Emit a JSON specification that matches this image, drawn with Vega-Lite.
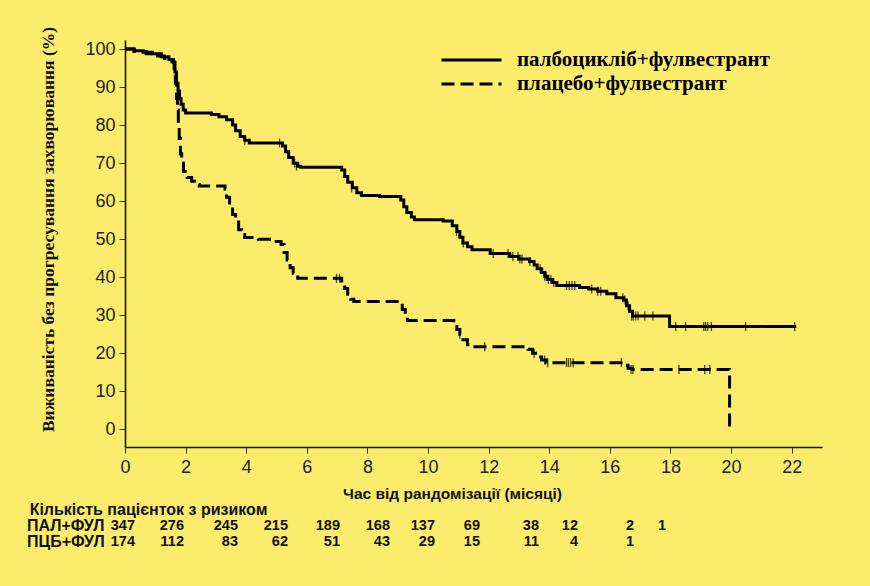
{
  "$schema": "https://vega.github.io/schema/vega-lite/v6.json",
  "width": 697,
  "height": 407,
  "autosize": {"type": "none"},
  "padding": {"left": 125, "top": 40, "right": 48, "bottom": 139},
  "background": "#FBEC6C",
  "config": {"view": {"stroke": null}, "font": "Liberation Sans"},
  "datasets": {
    "km": [
      {"g": "палбоцикліб+фулвестрант", "t": 0, "s": 100},
      {"g": "палбоцикліб+фулвестрант", "t": 0.3, "s": 99.6},
      {"g": "палбоцикліб+фулвестрант", "t": 0.6, "s": 99.2},
      {"g": "палбоцикліб+фулвестрант", "t": 0.9, "s": 98.8},
      {"g": "палбоцикліб+фулвестрант", "t": 1.2, "s": 98.0},
      {"g": "палбоцикліб+фулвестрант", "t": 1.45, "s": 97.3},
      {"g": "палбоцикліб+фулвестрант", "t": 1.6, "s": 96.5},
      {"g": "палбоцикліб+фулвестрант", "t": 1.65, "s": 94},
      {"g": "палбоцикліб+фулвестрант", "t": 1.7, "s": 91},
      {"g": "палбоцикліб+фулвестрант", "t": 1.75, "s": 89},
      {"g": "палбоцикліб+фулвестрант", "t": 1.8, "s": 87},
      {"g": "палбоцикліб+фулвестрант", "t": 1.85, "s": 85.5},
      {"g": "палбоцикліб+фулвестрант", "t": 1.92, "s": 84},
      {"g": "палбоцикліб+фулвестрант", "t": 2.0, "s": 83.2},
      {"g": "палбоцикліб+фулвестрант", "t": 2.85, "s": 82.8},
      {"g": "палбоцикліб+фулвестрант", "t": 3.1, "s": 82.2},
      {"g": "палбоцикліб+фулвестрант", "t": 3.35, "s": 81.4},
      {"g": "палбоцикліб+фулвестрант", "t": 3.55, "s": 80},
      {"g": "палбоцикліб+фулвестрант", "t": 3.65, "s": 78.5},
      {"g": "палбоцикліб+фулвестрант", "t": 3.8, "s": 77},
      {"g": "палбоцикліб+фулвестрант", "t": 3.95, "s": 76},
      {"g": "палбоцикліб+фулвестрант", "t": 4.1, "s": 75.3},
      {"g": "палбоцикліб+фулвестрант", "t": 5.2, "s": 74.5},
      {"g": "палбоцикліб+фулвестрант", "t": 5.3, "s": 73},
      {"g": "палбоцикліб+фулвестрант", "t": 5.4, "s": 71.5},
      {"g": "палбоцикліб+фулвестрант", "t": 5.55, "s": 70},
      {"g": "палбоцикліб+фулвестрант", "t": 5.7, "s": 69.2},
      {"g": "палбоцикліб+фулвестрант", "t": 5.8, "s": 68.9},
      {"g": "палбоцикліб+фулвестрант", "t": 7.15, "s": 68.2},
      {"g": "палбоцикліб+фулвестрант", "t": 7.25, "s": 66.5},
      {"g": "палбоцикліб+фулвестрант", "t": 7.35, "s": 65},
      {"g": "палбоцикліб+фулвестрант", "t": 7.5, "s": 63.5},
      {"g": "палбоцикліб+фулвестрант", "t": 7.65, "s": 62.2},
      {"g": "палбоцикліб+фулвестрант", "t": 7.8, "s": 61.5},
      {"g": "палбоцикліб+фулвестрант", "t": 8.4, "s": 61.2},
      {"g": "палбоцикліб+фулвестрант", "t": 9.1, "s": 60.3},
      {"g": "палбоцикліб+фулвестрант", "t": 9.2, "s": 58.5},
      {"g": "палбоцикліб+фулвестрант", "t": 9.3, "s": 57},
      {"g": "палбоцикліб+фулвестрант", "t": 9.45, "s": 55.8},
      {"g": "палбоцикліб+фулвестрант", "t": 9.55, "s": 55.1},
      {"g": "палбоцикліб+фулвестрант", "t": 10.5, "s": 54.8},
      {"g": "палбоцикліб+фулвестрант", "t": 10.8, "s": 53.5},
      {"g": "палбоцикліб+фулвестрант", "t": 10.95, "s": 52},
      {"g": "палбоцикліб+фулвестрант", "t": 11.05, "s": 50.5},
      {"g": "палбоцикліб+фулвестрант", "t": 11.15, "s": 49},
      {"g": "палбоцикліб+фулвестрант", "t": 11.3, "s": 48},
      {"g": "палбоцикліб+фулвестрант", "t": 11.45, "s": 47.2},
      {"g": "палбоцикліб+фулвестрант", "t": 12.05, "s": 46.2},
      {"g": "палбоцикліб+фулвестрант", "t": 12.7, "s": 45.4},
      {"g": "палбоцикліб+фулвестрант", "t": 13.0, "s": 44.8},
      {"g": "палбоцикліб+фулвестрант", "t": 13.35, "s": 44.1},
      {"g": "палбоцикліб+фулвестрант", "t": 13.5, "s": 43.2},
      {"g": "палбоцикліб+фулвестрант", "t": 13.6, "s": 42.2},
      {"g": "палбоцикліб+фулвестрант", "t": 13.75, "s": 41.2},
      {"g": "палбоцикліб+фулвестрант", "t": 13.85, "s": 40.2},
      {"g": "палбоцикліб+фулвестрант", "t": 13.95, "s": 39.4},
      {"g": "палбоцикліб+фулвестрант", "t": 14.1, "s": 38.6},
      {"g": "палбоцикліб+фулвестрант", "t": 14.25, "s": 37.8},
      {"g": "палбоцикліб+фулвестрант", "t": 15.0, "s": 37.3},
      {"g": "палбоцикліб+фулвестрант", "t": 15.3, "s": 36.9},
      {"g": "палбоцикліб+фулвестрант", "t": 15.6, "s": 36.3},
      {"g": "палбоцикліб+фулвестрант", "t": 15.9, "s": 35.6},
      {"g": "палбоцикліб+фулвестрант", "t": 16.2, "s": 34.6},
      {"g": "палбоцикліб+фулвестрант", "t": 16.45, "s": 34.0},
      {"g": "палбоцикліб+фулвестрант", "t": 16.55, "s": 32.5},
      {"g": "палбоцикліб+фулвестрант", "t": 16.65, "s": 31},
      {"g": "палбоцикліб+фулвестрант", "t": 16.75, "s": 29.8},
      {"g": "палбоцикліб+фулвестрант", "t": 17.97, "s": 27.0},
      {"g": "палбоцикліб+фулвестрант", "t": 22.15, "s": 27.0},
      {"g": "плацебо+фулвестрант", "t": 0, "s": 100},
      {"g": "плацебо+фулвестрант", "t": 0.3, "s": 99.4},
      {"g": "плацебо+фулвестрант", "t": 0.7, "s": 98.8},
      {"g": "плацебо+фулвестрант", "t": 1.0, "s": 98.2},
      {"g": "плацебо+фулвестрант", "t": 1.3, "s": 97.5},
      {"g": "плацебо+фулвестрант", "t": 1.55, "s": 96.7},
      {"g": "плацебо+фулвестрант", "t": 1.62, "s": 94},
      {"g": "плацебо+фулвестрант", "t": 1.66, "s": 91},
      {"g": "плацебо+фулвестрант", "t": 1.7, "s": 87},
      {"g": "плацебо+фулвестрант", "t": 1.73, "s": 84},
      {"g": "плацебо+фулвестрант", "t": 1.76, "s": 80},
      {"g": "плацебо+фулвестрант", "t": 1.79, "s": 76.5},
      {"g": "плацебо+фулвестрант", "t": 1.83, "s": 72.5},
      {"g": "плацебо+фулвестрант", "t": 1.87, "s": 70},
      {"g": "плацебо+фулвестрант", "t": 1.93, "s": 67.8},
      {"g": "плацебо+фулвестрант", "t": 2.05, "s": 66.2},
      {"g": "плацебо+фулвестрант", "t": 2.2, "s": 65.2},
      {"g": "плацебо+фулвестрант", "t": 2.35, "s": 64.4},
      {"g": "плацебо+фулвестрант", "t": 2.45, "s": 64.0},
      {"g": "плацебо+фулвестрант", "t": 3.3, "s": 63.2},
      {"g": "плацебо+фулвестрант", "t": 3.35, "s": 61},
      {"g": "плацебо+фулвестрант", "t": 3.45, "s": 58.5},
      {"g": "плацебо+фулвестрант", "t": 3.55, "s": 56.5},
      {"g": "плацебо+фулвестрант", "t": 3.65, "s": 54.5},
      {"g": "плацебо+фулвестрант", "t": 3.75, "s": 52.5},
      {"g": "плацебо+фулвестрант", "t": 3.85, "s": 51.2},
      {"g": "плацебо+фулвестрант", "t": 3.95, "s": 50.4},
      {"g": "плацебо+фулвестрант", "t": 4.4, "s": 50.0},
      {"g": "плацебо+фулвестрант", "t": 4.9, "s": 49.4},
      {"g": "плацебо+фулвестрант", "t": 5.15, "s": 48.6},
      {"g": "плацебо+фулвестрант", "t": 5.25, "s": 46.5},
      {"g": "плацебо+фулвестрант", "t": 5.35, "s": 44.5},
      {"g": "плацебо+фулвестрант", "t": 5.45, "s": 42.5},
      {"g": "плацебо+фулвестрант", "t": 5.55, "s": 41},
      {"g": "плацебо+фулвестрант", "t": 5.7, "s": 39.7},
      {"g": "плацебо+фулвестрант", "t": 7.15, "s": 38.5},
      {"g": "плацебо+фулвестрант", "t": 7.25, "s": 37},
      {"g": "плацебо+фулвестрант", "t": 7.35, "s": 35.5},
      {"g": "плацебо+фулвестрант", "t": 7.45, "s": 34.2},
      {"g": "плацебо+фулвестрант", "t": 7.55, "s": 33.6},
      {"g": "плацебо+фулвестрант", "t": 9.15, "s": 31.5},
      {"g": "плацебо+фулвестрант", "t": 9.25, "s": 29.5},
      {"g": "плацебо+фулвестрант", "t": 9.32, "s": 28.6},
      {"g": "плацебо+фулвестрант", "t": 10.85, "s": 27.5},
      {"g": "плацебо+фулвестрант", "t": 10.95, "s": 26.2},
      {"g": "плацебо+фулвестрант", "t": 11.05, "s": 25},
      {"g": "плацебо+фулвестрант", "t": 11.15, "s": 23.5},
      {"g": "плацебо+фулвестрант", "t": 11.3, "s": 22.2},
      {"g": "плацебо+фулвестрант", "t": 11.4, "s": 21.7},
      {"g": "плацебо+фулвестрант", "t": 13.3, "s": 21.0},
      {"g": "плацебо+фулвестрант", "t": 13.45, "s": 20.0},
      {"g": "плацебо+фулвестрант", "t": 13.6, "s": 19.0},
      {"g": "плацебо+фулвестрант", "t": 13.75, "s": 18.2},
      {"g": "плацебо+фулвестрант", "t": 13.9, "s": 17.5},
      {"g": "плацебо+фулвестрант", "t": 16.45, "s": 16.8},
      {"g": "плацебо+фулвестрант", "t": 16.6, "s": 16.0},
      {"g": "плацебо+фулвестрант", "t": 16.75, "s": 15.7},
      {"g": "плацебо+фулвестрант", "t": 19.95, "s": 0}
    ],
    "cens": [
      {"t": 3.95, "s": 76}, {"t": 5.1, "s": 75.3}, {"t": 5.6, "s": 70}, {"t": 5.66, "s": 69.2},
      {"t": 7.48, "s": 63.5}, {"t": 10.94, "s": 52}, {"t": 11.16, "s": 49},
      {"t": 12.15, "s": 46.2}, {"t": 12.64, "s": 46.2}, {"t": 12.8, "s": 45.4}, {"t": 12.97, "s": 45.4},
      {"t": 13.03, "s": 44.8}, {"t": 13.1, "s": 44.8}, {"t": 13.36, "s": 44.1}, {"t": 13.7, "s": 42.2},
      {"t": 13.85, "s": 40.2}, {"t": 13.9, "s": 40.2}, {"t": 13.97, "s": 39.4}, {"t": 14.05, "s": 39.4},
      {"t": 14.15, "s": 38.6}, {"t": 14.57, "s": 37.8}, {"t": 14.66, "s": 37.8}, {"t": 14.75, "s": 37.8},
      {"t": 14.84, "s": 37.8}, {"t": 15.4, "s": 36.9}, {"t": 15.6, "s": 36.3}, {"t": 15.7, "s": 36.3},
      {"t": 16.43, "s": 34.6}, {"t": 16.5, "s": 34.0}, {"t": 16.6, "s": 32.5}, {"t": 16.72, "s": 29.8},
      {"t": 16.77, "s": 29.8}, {"t": 16.85, "s": 29.8}, {"t": 16.93, "s": 29.8}, {"t": 17.15, "s": 29.8},
      {"t": 17.42, "s": 29.8}, {"t": 18.17, "s": 27}, {"t": 18.5, "s": 27}, {"t": 19.1, "s": 27},
      {"t": 19.16, "s": 27}, {"t": 19.23, "s": 27}, {"t": 19.35, "s": 27}, {"t": 20.48, "s": 27},
      {"t": 22.1, "s": 27},
      {"t": 6.98, "s": 39.7}, {"t": 7.08, "s": 39.7}, {"t": 11.05, "s": 25}, {"t": 11.87, "s": 21.7},
      {"t": 13.5, "s": 20}, {"t": 13.85, "s": 18.2}, {"t": 13.95, "s": 17.5}, {"t": 14.57, "s": 17.5},
      {"t": 14.63, "s": 17.5}, {"t": 14.7, "s": 17.5}, {"t": 14.79, "s": 17.5}, {"t": 16.38, "s": 17.5},
      {"t": 16.7, "s": 15.7}, {"t": 16.76, "s": 15.7}, {"t": 18.28, "s": 15.7}, {"t": 19.13, "s": 15.7},
      {"t": 19.3, "s": 15.7}
    ],
    "risk": [
      {"row": "ПАЛ+ФУЛ", "month": 0, "n": 347}, {"row": "ПАЛ+ФУЛ", "month": 2, "n": 276},
      {"row": "ПАЛ+ФУЛ", "month": 4, "n": 245}, {"row": "ПАЛ+ФУЛ", "month": 6, "n": 215},
      {"row": "ПАЛ+ФУЛ", "month": 8, "n": 189}, {"row": "ПАЛ+ФУЛ", "month": 10, "n": 168},
      {"row": "ПАЛ+ФУЛ", "month": 12, "n": 137}, {"row": "ПАЛ+ФУЛ", "month": 14, "n": 69},
      {"row": "ПАЛ+ФУЛ", "month": 16, "n": 38}, {"row": "ПАЛ+ФУЛ", "month": 18, "n": 12},
      {"row": "ПАЛ+ФУЛ", "month": 20, "n": 2}, {"row": "ПАЛ+ФУЛ", "month": 22, "n": 1},
      {"row": "ПЦБ+ФУЛ", "month": 0, "n": 174}, {"row": "ПЦБ+ФУЛ", "month": 2, "n": 112},
      {"row": "ПЦБ+ФУЛ", "month": 4, "n": 83}, {"row": "ПЦБ+ФУЛ", "month": 6, "n": 62},
      {"row": "ПЦБ+ФУЛ", "month": 8, "n": 51}, {"row": "ПЦБ+ФУЛ", "month": 10, "n": 43},
      {"row": "ПЦБ+ФУЛ", "month": 12, "n": 29}, {"row": "ПЦБ+ФУЛ", "month": 14, "n": 15},
      {"row": "ПЦБ+ФУЛ", "month": 16, "n": 11}, {"row": "ПЦБ+ФУЛ", "month": 18, "n": 4},
      {"row": "ПЦБ+ФУЛ", "month": 20, "n": 1}
    ],
    "rlab": [
      {"row": "header", "col": -4.3, "txt": "Кількість пацієнток з ризиком"},
      {"row": "ПАЛ+ФУЛ", "col": -4.41, "txt": "ПАЛ+ФУЛ"},
      {"row": "ПЦБ+ФУЛ", "col": -4.41, "txt": "ПЦБ+ФУЛ"}
    ]
  },
  "layer": [
    {
      "layer": [
        {
          "data": {"name": "km"},
          "mark": {"type": "line", "interpolate": "step-after", "color": "black", "strokeWidth": 3, "strokeCap": "butt"},
          "encoding": {
            "x": {
              "field": "t", "type": "quantitative",
              "scale": {"domain": [0, 23], "nice": false, "zero": false},
              "axis": {
                "values": [0, 2, 4, 6, 8, 10, 12, 14, 16, 18, 20, 22],
                "title": "Час від рандомізації (місяці)",
                "titleFont": "Liberation Sans", "titleFontWeight": "bold", "titleFontSize": 15.5, "titleColor": "#111",
                "titleX": 327, "titleY": 46, "titleBaseline": "middle",
                "labelFont": "Liberation Sans", "labelFontSize": 18, "labelColor": "#222", "labelPadding": 5, "labelFlush": false,
                "tickSize": 6, "tickColor": "#333", "domainColor": "#111", "domainWidth": 1.6, "grid": false
              }
            },
            "y": {
              "field": "s", "type": "quantitative",
              "scale": {"domain": [-4.7, 102.4], "nice": false, "zero": false},
              "axis": {
                "values": [0, 10, 20, 30, 40, 50, 60, 70, 80, 90, 100],
                "title": "Виживаність без прогресування захворювання (%)",
                "titleFont": "Liberation Serif", "titleFontWeight": "bold", "titleFontSize": 17.5, "titleColor": "#111",
                "titleX": -77, "titleY": 189, "titleBaseline": "middle",
                "labelFont": "Liberation Sans", "labelFontSize": 18, "labelColor": "#222", "labelPadding": 4,
                "tickSize": 6, "tickColor": "#333", "domainColor": "#111", "domainWidth": 1.6, "grid": false
              }
            },
            "strokeDash": {
              "field": "g", "type": "nominal",
              "scale": {"domain": ["палбоцикліб+фулвестрант", "плацебо+фулвестрант"], "range": [[1, 0], [13, 6]]},
              "legend": {
                "orient": "none", "legendX": 315, "legendY": 8, "title": null,
                "symbolType": "stroke", "symbolSize": 3600, "symbolStrokeWidth": 3, "symbolStrokeColor": "black",
                "clipHeight": 24, "rowPadding": 0, "padding": 0,
                "labelFont": "Liberation Serif", "labelFontWeight": "bold", "labelFontSize": 21, "labelColor": "black",
                "labelOffset": 14, "labelLimit": 0
              }
            }
          }
        },
        {
          "data": {"name": "cens"},
          "mark": {"type": "tick", "orient": "vertical", "color": "black", "size": 9, "thickness": 1.3},
          "encoding": {
            "x": {"field": "t", "type": "quantitative"},
            "y": {"field": "s", "type": "quantitative"}
          }
        }
      ]
    },
    {
      "layer": [
        {
          "data": {"name": "risk"},
          "mark": {"type": "text", "align": "right", "baseline": "middle", "fontWeight": "bold", "fontSize": 14.5, "font": "Liberation Sans", "color": "#111"},
          "encoding": {
            "x": {
              "field": "month", "type": "quantitative",
              "scale": {"domain": [0, 2, 4, 6, 8, 10, 12, 14, 16, 18, 20, 22], "range": [10, 59, 113, 163, 215, 265, 310, 355, 414, 453, 509, 541]},
              "axis": null
            },
            "y": {
              "field": "row", "type": "nominal",
              "scale": {"type": "point", "domain": ["header", "ПАЛ+ФУЛ", "ПЦБ+ФУЛ"], "range": [470, 502], "padding": 0},
              "axis": null
            },
            "text": {"field": "n", "type": "quantitative"}
          }
        },
        {
          "data": {"name": "rlab"},
          "mark": {"type": "text", "align": "left", "baseline": "middle", "fontWeight": "bold", "fontSize": 16, "font": "Liberation Sans", "color": "#111"},
          "encoding": {
            "x": {"field": "col", "type": "quantitative"},
            "y": {"field": "row", "type": "nominal"},
            "text": {"field": "txt", "type": "nominal"}
          }
        }
      ]
    }
  ],
  "resolve": {"scale": {"x": "independent", "y": "independent"}}
}
